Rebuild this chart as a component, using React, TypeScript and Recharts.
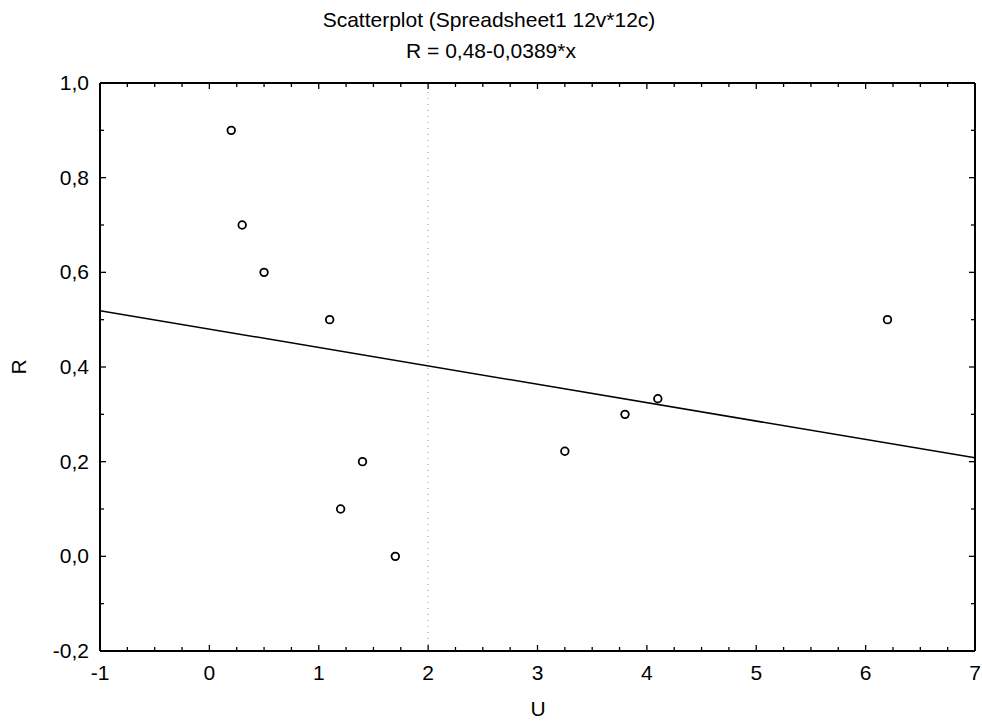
import {
    ScatterChart,
    Scatter,
    XAxis,
    YAxis,
    ReferenceLine,
} from "recharts";

const U_VALUES = [0.2, 0.3, 0.5, 1.1, 1.2, 1.4, 1.7, 3.25, 3.8, 4.1, 6.2];
const R_VALUES = [0.9, 0.7, 0.6, 0.5, 0.1, 0.2, 0.0, 0.222, 0.3, 0.333, 0.5];

// fitted line R = 0,48-0,0389*x, read at the two plot edges
const FIT_U = [-1, 7];
const FIT_R = [0.519, 0.208];

const X_MAJOR = [-1, 0, 1, 2, 3, 4, 5, 6, 7];
const Y_MAJOR = [-0.2, 0.0, 0.2, 0.4, 0.6, 0.8, 1.0];

const TITLE = "Scatterplot (Spreadsheet1 12v*12c)";
const SUBTITLE = "R = 0,48-0,0389*x";

const points = U_VALUES.map((u, i) => ({ u, r: R_VALUES[i] }));
const fit = FIT_U.map((u, i) => ({ u, r: FIT_R[i] }));

// minor ticks: 4 per unit on U, 2 per 0.2 on R
const xTicks: number[] = [];
X_MAJOR.forEach((v, i) => {
    xTicks.push(v);
    if (i < X_MAJOR.length - 1) [0.25, 0.5, 0.75].forEach((f) => xTicks.push(v + f));
});
const yTicks: number[] = [];
Y_MAJOR.forEach((v, i) => {
    yTicks.push(v);
    if (i < Y_MAJOR.length - 1) yTicks.push(v + 0.1);
});

const isMajor = (v: number, list: number[]) => list.some((m) => Math.abs(m - v) < 1e-6);
const FONT = "'Liberation Sans', Arial, sans-serif";

// plot frame (page pixels)
const LEFT = 100;
const TOP = 83;
const RIGHT = 975;
const BOTTOM = 651;

function BottomTick({ x, payload }: any) {
    const major = isMajor(payload.value, X_MAJOR);
    return (
        <g>
            <line x1={x} x2={x} y1={BOTTOM} y2={BOTTOM - (major ? 6 : 4)} stroke="#000" strokeWidth={1.3} />
            {major && (
                <text x={x} y={BOTTOM + 29} textAnchor="middle" fontSize={21} fill="#000" fontFamily={FONT}>
                    {payload.value}
                </text>
            )}
        </g>
    );
}

function TopTick({ x, payload }: any) {
    const major = isMajor(payload.value, X_MAJOR);
    return <line x1={x} x2={x} y1={TOP} y2={TOP + (major ? 6 : 4)} stroke="#000" strokeWidth={1.3} />;
}

function LeftTick({ y, payload }: any) {
    const major = isMajor(payload.value, Y_MAJOR);
    return (
        <g>
            <line x1={LEFT} x2={LEFT + (major ? 6 : 4)} y1={y} y2={y} stroke="#000" strokeWidth={1.3} />
            {major && (
                <text x={LEFT - 11} y={y + 7} textAnchor="end" fontSize={21} fill="#000" fontFamily={FONT}>
                    {payload.value.toFixed(1).replace(".", ",")}
                </text>
            )}
        </g>
    );
}

function RightTick({ y, payload }: any) {
    const major = isMajor(payload.value, Y_MAJOR);
    return <line x1={RIGHT} x2={RIGHT - (major ? 6 : 4)} y1={y} y2={y} stroke="#000" strokeWidth={1.3} />;
}

const Ring = ({ cx, cy }: any) => (
    <circle cx={cx} cy={cy} r={3.8} fill="#fff" stroke="#000" strokeWidth={1.8} />
);

const FRAME = { stroke: "#000", strokeWidth: 2 };

export default function App() {
    return (
        <div style={{ position: "absolute", left: 0, top: 0, background: "#fff" }}>
            <ScatterChart
                width={982}
                height={724}
                margin={{ top: TOP - 1, right: 982 - RIGHT - 1, bottom: 0, left: 0 }}
                style={{ fontFamily: FONT }}
            >
                <text x={489} y={27} textAnchor="middle" fontSize={21} fill="#000" fontFamily={FONT}>
                    {TITLE}
                </text>
                <text x={491} y={58} textAnchor="middle" fontSize={21} fill="#000" fontFamily={FONT}>
                    {SUBTITLE}
                </text>
                <text
                    x={18}
                    y={367}
                    textAnchor="middle"
                    fontSize={21}
                    fill="#000"
                    fontFamily={FONT}
                    transform="rotate(-90 18 367)"
                    dominantBaseline="central"
                >
                    R
                </text>
                <text x={538} y={716} textAnchor="middle" fontSize={21} fill="#000" fontFamily={FONT}>
                    U
                </text>

                <XAxis
                    type="number"
                    dataKey="u"
                    domain={[-1, 7]}
                    ticks={xTicks}
                    interval={0}
                    height={724 - BOTTOM}
                    tickLine={false}
                    tick={<BottomTick />}
                    axisLine={FRAME}
                    allowDataOverflow
                />
                <XAxis
                    xAxisId="top"
                    orientation="top"
                    type="number"
                    dataKey="u"
                    domain={[-1, 7]}
                    ticks={xTicks}
                    interval={0}
                    height={1}
                    tickLine={false}
                    tick={<TopTick />}
                    axisLine={FRAME}
                    allowDataOverflow
                />
                <YAxis
                    type="number"
                    dataKey="r"
                    domain={[-0.2, 1.0]}
                    ticks={yTicks}
                    interval={0}
                    width={LEFT}
                    tickLine={false}
                    tick={<LeftTick />}
                    axisLine={FRAME}
                    allowDataOverflow
                />
                <YAxis
                    yAxisId="right"
                    orientation="right"
                    type="number"
                    dataKey="r"
                    domain={[-0.2, 1.0]}
                    ticks={yTicks}
                    interval={0}
                    width={1}
                    tickLine={false}
                    tick={<RightTick />}
                    axisLine={FRAME}
                    allowDataOverflow
                />

                <ReferenceLine x={2} stroke="#999" strokeDasharray="1 5" strokeWidth={1} />

                <Scatter
                    data={fit}
                    line={{ stroke: "#000", strokeWidth: 1.5 }}
                    shape={() => null}
                    isAnimationActive={false}
                />
                <Scatter data={points} shape={<Ring />} isAnimationActive={false} />
            </ScatterChart>
        </div>
    );
}
